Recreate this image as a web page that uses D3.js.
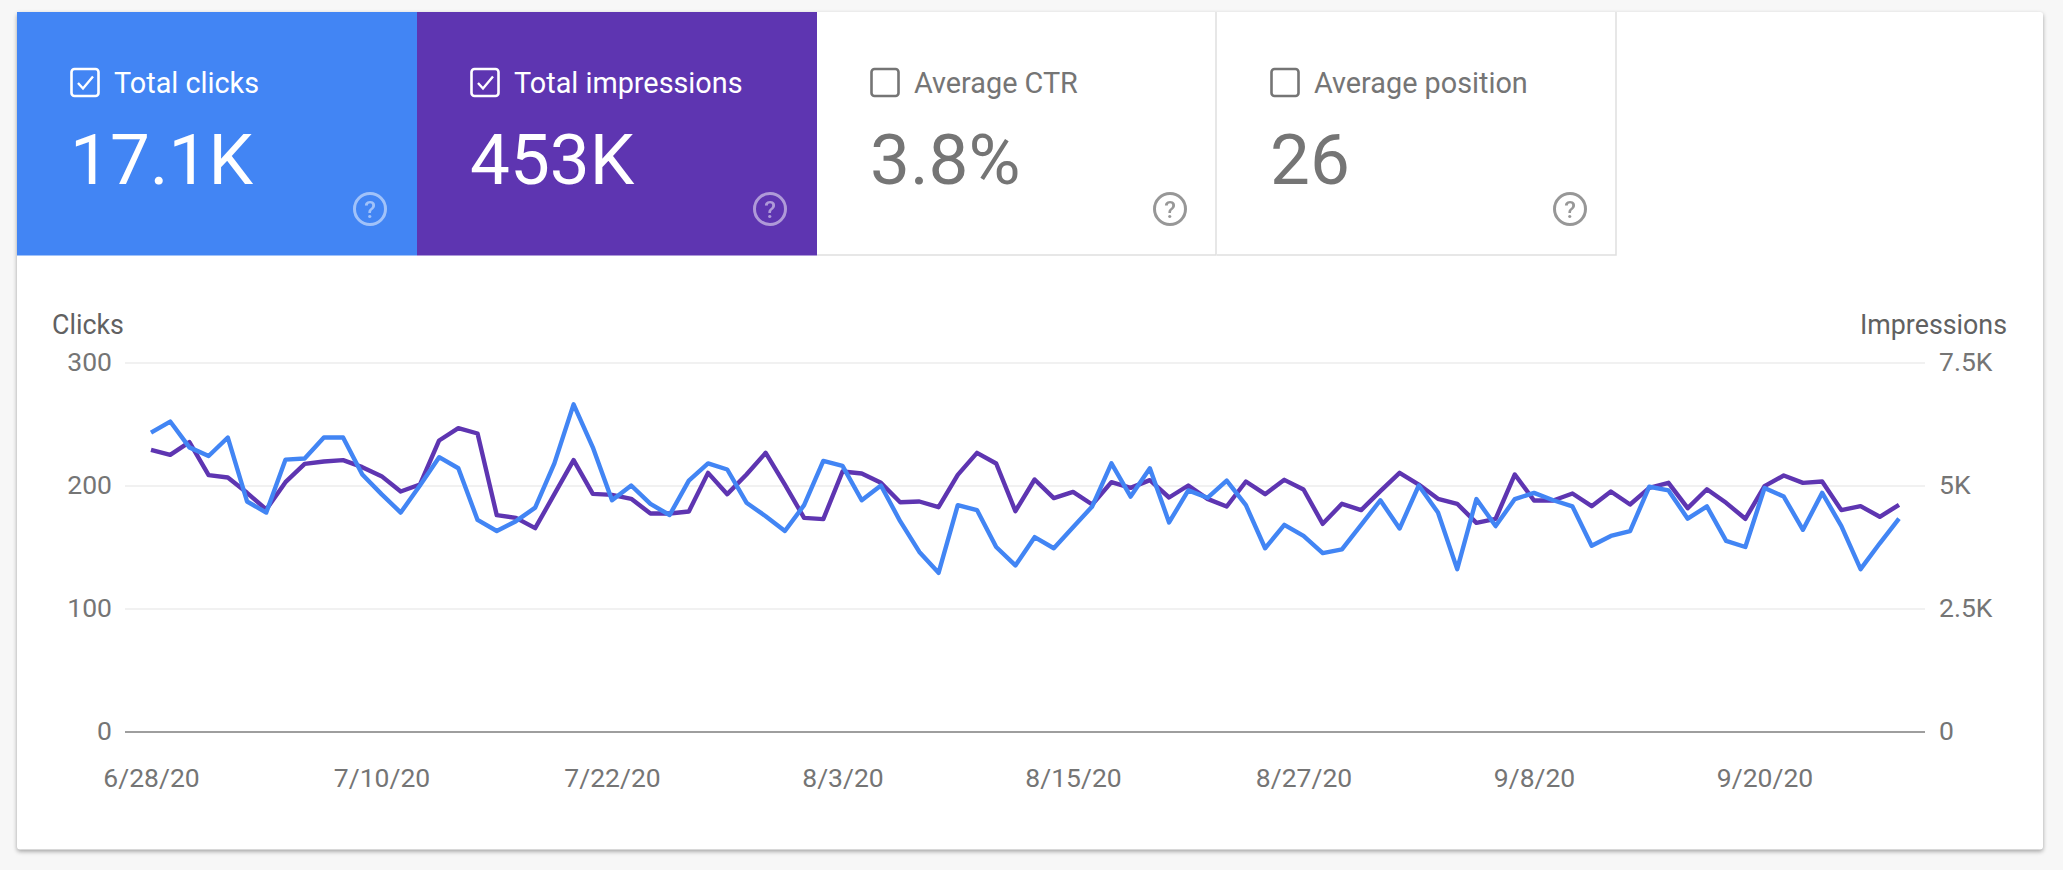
<!DOCTYPE html>
<html>
<head>
<meta charset="utf-8">
<script src="https://cdn.jsdelivr.net/npm/d3@7"></script>
<style>
  html, body { margin: 0; padding: 0; background: #f7f7f7; overflow: hidden; }
  svg { display: block; font-family: Roboto, sans-serif; }
  .card { filter: drop-shadow(0 2px 2px rgba(0,0,0,0.35)); }
  .axis text { fill: #757575; font-size: 26.5px; font-family: Roboto, sans-serif; }
  .axis .domain { display: none; }
</style>
</head>
<body>
<div id="chart"></div>
<script>
// tiles
var tileNames = ["Total clicks", "Total impressions", "Average CTR", "Average position"];
var tileValues = ["17.1K", "453K", "3.8%", "26"];
var tileFills = ["#4285f4", "#5e35b1", "#ffffff", "#ffffff"];
var tileChecked = [true, true, false, false];

// axes
var clickTicks = [0, 100, 200, 300];
var impressionTicks = [0, 2500, 5000, 7500];
var impressionLabels = ["0", "2.5K", "5K", "7.5K"];
var dateLabels = ["6/28/20", "7/10/20", "7/22/20", "8/3/20", "8/15/20", "8/27/20", "9/8/20", "9/20/20"];

// one value per day, 6/28/20 to 9/27/20
var dayCount = 92;
var clicks = [
  243, 252, 231, 224, 239, 187, 178, 221, 222, 239, 239, 209, 193, 178, 200, 223, 214, 172, 163, 171, 182, 218, 266,
  231, 188, 200, 185, 176, 204, 218, 213, 186, 175, 163, 184, 220, 216, 188, 200, 171, 146, 129, 184, 180, 150, 135, 158,
  149, 166, 183, 218, 191, 214, 170, 196, 190, 204, 184, 149, 168, 159, 145, 148, 168, 188, 165, 200, 178, 132, 189, 167,
  189, 194, 188, 183, 151, 159, 163, 199, 196, 173, 183, 155, 150, 198, 191, 164, 194, 167, 132, 153, 173
];
var impressions = [
  5725, 5623, 5881, 5210, 5163, 4851, 4512, 5068, 5440, 5488, 5515, 5373, 5190, 4878, 5020, 5915, 6165, 6057, 4397, 4343, 4133, 4824, 5515,
  4830, 4810, 4729, 4431, 4431, 4472, 5257, 4824, 5224, 5664, 5020, 4343, 4316, 5285, 5244, 5054, 4661, 4675, 4560, 5217, 5664, 5447, 4479, 5122,
  4743, 4871, 4614, 5068, 4952, 5109, 4756, 5000, 4729, 4573, 5081, 4824, 5115, 4919, 4221, 4628, 4499, 4885, 5257, 5020, 4729, 4628, 4241, 4323,
  5224, 4695, 4695, 4837, 4580, 4878, 4614, 4952, 5054, 4539, 4925, 4648, 4323, 4986, 5203, 5054, 5081, 4499, 4580, 4364, 4607
];

var width = 2063;
var height = 870;
var tileWidth = 400;
var cardLeft = 17;
var cardTop = 12;

var svg = d3
  .select("#chart")
  .append("svg")
  .attr("width", width)
  .attr("height", height);

svg
  .append("rect")
  .attr("class", "card")
  .attr("x", cardLeft)
  .attr("y", cardTop)
  .attr("width", 2026)
  .attr("height", 837.5)
  .attr("rx", 3)
  .attr("fill", "#fff");

var tiles = svg
  .selectAll("g.tile")
  .data(tileNames)
  .enter()
  .append("g")
  .attr("class", "tile")
  .attr("transform", function(d, i) {
    return "translate(" + (cardLeft + i * tileWidth) + "," + cardTop + ")";
  });

tiles
  .append("rect")
  .attr("width", tileWidth)
  .attr("height", 243.5)
  .attr("fill", function(d, i) { return tileFills[i]; });

// light borders on the two unselected tiles
tiles
  .filter(function(d, i) { return !tileChecked[i]; })
  .append("path")
  .attr("d", "M0,243H399V0")
  .attr("fill", "none")
  .attr("stroke", "#e0e0e0")
  .attr("stroke-width", 1.5);

function tileInk(i) {
  return tileChecked[i] ? "#ffffff" : "#757575";
}

tiles
  .append("rect")
  .attr("x", 54.5)
  .attr("y", 57)
  .attr("width", 27)
  .attr("height", 27)
  .attr("rx", 3)
  .attr("fill", "none")
  .attr("stroke", function(d, i) { return tileInk(i); })
  .attr("stroke-width", 2.6);

tiles
  .filter(function(d, i) { return tileChecked[i]; })
  .append("path")
  .attr("d", "M61,71l5,5.5l10,-12")
  .attr("fill", "none")
  .attr("stroke", "#fff")
  .attr("stroke-width", 2.4);

tiles
  .append("text")
  .attr("x", 97)
  .attr("y", 80.5)
  .attr("font-size", 28.8)
  .attr("fill", function(d, i) { return tileInk(i); })
  .text(function(d) { return d; });

tiles
  .append("text")
  .attr("x", 53)
  .attr("y", 172)
  .attr("font-size", 71)
  .attr("fill", function(d, i) { return tileInk(i); })
  .text(function(d, i) { return tileValues[i]; });

var help = tiles
  .append("g")
  .attr("transform", "translate(353,197)")
  .attr("opacity", function(d, i) { return tileChecked[i] ? 0.5 : 0.75; });

help
  .append("circle")
  .attr("r", 15.5)
  .attr("fill", "none")
  .attr("stroke", function(d, i) { return tileChecked[i] ? "#fff" : "#757575"; })
  .attr("stroke-width", 3);

help
  .append("text")
  .attr("y", 8.5)
  .attr("text-anchor", "middle")
  .attr("font-size", 24)
  .attr("font-weight", 500)
  .attr("fill", function(d, i) { return tileChecked[i] ? "#fff" : "#757575"; })
  .text("?");

// chart
var gridLeft = 125;
var gridRight = 1925;
var plotTop = 362.5;
var plotBottom = 731.5;

var parseDay = d3.timeParse("%-m/%-d/%y");
var firstDay = parseDay(dateLabels[0]);
var days = d3.timeDay.range(firstDay, d3.timeDay.offset(firstDay, dayCount));

var xScale = d3
  .scaleTime()
  .domain(d3.extent(days))
  .range([151, 1899]);
var yClicks = d3
  .scaleLinear()
  .domain([0, 300])
  .range([plotBottom, plotTop]);
var yImpressions = d3
  .scaleLinear()
  .domain([0, 7500])
  .range([plotBottom, plotTop]);

var leftAxis = d3
  .axisLeft(yClicks)
  .tickValues(clickTicks)
  .tickSize(-(gridRight - gridLeft))
  .tickPadding(13);
var rightAxis = d3
  .axisRight(yImpressions)
  .tickValues(impressionTicks)
  .tickFormat(function(d, i) { return impressionLabels[i]; })
  .tickSize(0)
  .tickPadding(14);
var bottomAxis = d3
  .axisBottom(xScale)
  .tickValues(dateLabels.map(parseDay))
  .tickFormat(function(d, i) { return dateLabels[i]; })
  .tickSize(0)
  .tickPadding(37);

var gLeft = svg
  .append("g")
  .attr("class", "axis")
  .attr("transform", "translate(" + gridLeft + ",0)")
  .call(leftAxis);

gLeft
  .selectAll(".tick line")
  .attr("stroke", function(d) { return d === 0 ? "#9e9e9e" : "#ececec"; })
  .attr("stroke-width", function(d) { return d === 0 ? 2 : 1.5; });

svg
  .append("g")
  .attr("class", "axis")
  .attr("transform", "translate(" + gridRight + ",0)")
  .call(rightAxis);

svg
  .append("g")
  .attr("class", "axis")
  .attr("transform", "translate(0," + plotBottom + ")")
  .call(bottomAxis);

svg
  .append("text")
  .attr("x", 52)
  .attr("y", 334)
  .attr("font-size", 26.8)
  .attr("fill", "#616161")
  .text("Clicks");

svg
  .append("text")
  .attr("x", 2007)
  .attr("y", 334)
  .attr("text-anchor", "end")
  .attr("font-size", 26.8)
  .attr("fill", "#616161")
  .text("Impressions");

var impressionLine = d3
  .line()
  .x(function(d, i) { return xScale(days[i]); })
  .y(function(d) { return yImpressions(d); });
var clickLine = d3
  .line()
  .x(function(d, i) { return xScale(days[i]); })
  .y(function(d) { return yClicks(d); });

svg
  .append("path")
  .datum(impressions)
  .attr("d", impressionLine)
  .attr("fill", "none")
  .attr("stroke", "#5e35b1")
  .attr("stroke-width", 4.4)
  .attr("stroke-linejoin", "round");

svg
  .append("path")
  .datum(clicks)
  .attr("d", clickLine)
  .attr("fill", "none")
  .attr("stroke", "#4285f4")
  .attr("stroke-width", 4.4)
  .attr("stroke-linejoin", "round");
</script>
</body>
</html>
